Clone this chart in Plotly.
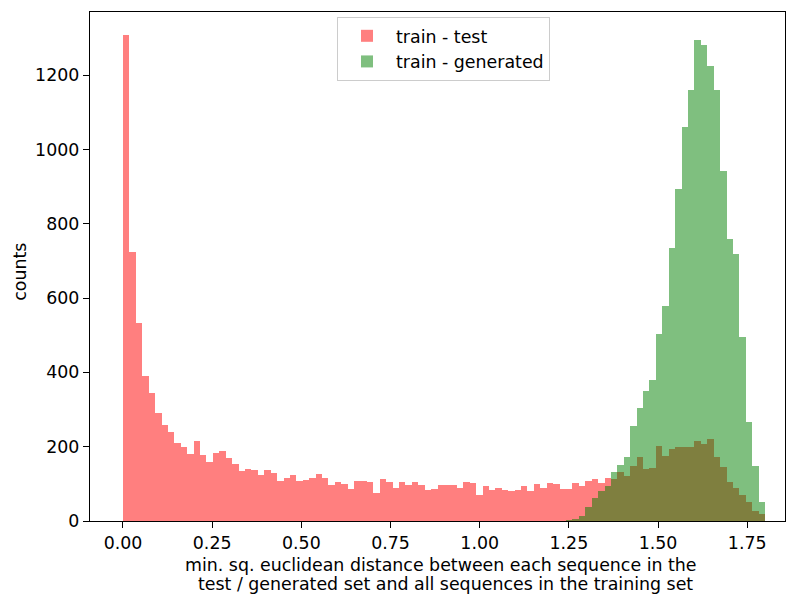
import plotly.graph_objects as go

# histogram bins (shared by both series)
bin_start = 0.0
bin_width = 0.018

train_test_counts = [
    1308, 725, 534, 391, 345, 291, 259, 240, 210, 200,
    181, 216, 178, 159, 183, 189, 170, 154, 135, 140,
    137, 124, 137, 129, 108, 116, 124, 108, 111, 116,
    127, 116, 97, 105, 100, 86, 108, 108, 105, 76,
    113, 105, 89, 105, 97, 105, 97, 84, 86, 97,
    97, 97, 89, 105, 102, 70, 94, 84, 89, 84,
    81, 84, 94, 81, 100, 89, 102, 100, 85, 87,
    101, 95, 109, 112, 103, 117, 112, 133, 120, 149,
    171, 141, 144, 203, 174, 195, 198, 198, 198, 214,
    208, 222, 171, 146, 106, 90, 71, 52, 26, 20,
]

train_generated_first_bin = 68  # 0-based index of first non-empty bin
train_generated_counts = [
    1, 2, 5, 13, 39, 63, 82, 93, 133, 152,
    171, 257, 305, 351, 380, 502, 580, 736, 893, 1060,
    1160, 1294, 1281, 1224, 1160, 941, 760, 720, 494, 267,
    149, 52,
]

x_ticks = [0.0, 0.25, 0.5, 0.75, 1.0, 1.25, 1.5, 1.75]
x_tick_labels = ["0.00", "0.25", "0.50", "0.75", "1.00", "1.25", "1.50", "1.75"]
y_ticks = [0, 200, 400, 600, 800, 1000, 1200]

x_title_lines = [
    "min. sq. euclidean distance between each sequence in the",
    "test / generated set and all sequences in the training set",
]
y_title = "counts"

x_test = [bin_start + bin_width * i for i in range(len(train_test_counts))]
x_gen = [bin_start + bin_width * (train_generated_first_bin + i)
         for i in range(len(train_generated_counts))]

FONT = "DejaVu Sans"
FS = 17.4

W, H = 786, 594
ML, MR, MT, MB = 90, 1, 12, 72.5
plot_h = H - MT - MB
plot_w = W - ML - MR

fig = go.Figure()
fig.add_trace(go.Bar(
    x=x_test, y=train_test_counts, width=bin_width, offset=0,
    name="train - test",
    marker=dict(color="rgba(255,0,0,0.5)", line=dict(width=0)),
))
fig.add_trace(go.Bar(
    x=x_gen, y=train_generated_counts, width=bin_width, offset=0,
    name="train - generated",
    marker=dict(color="rgba(0,128,0,0.5)", line=dict(width=0)),
))

axis_common = dict(
    showline=True, linecolor="black", linewidth=1.3, mirror=True,
    ticks="outside", ticklen=6, tickwidth=1.3, tickcolor="black",
    showgrid=False, zeroline=False, automargin=False,
    tickfont=dict(family=FONT, size=FS, color="black"),
)

def py(px_y):
    return (H - MB - px_y) / plot_h

def px(px_x):
    return (px_x - ML) / plot_w

annotations = [
    dict(text=x_title_lines[0], x=px(441), y=py(566), xref="paper", yref="paper",
         xanchor="center", yanchor="middle", showarrow=False,
         font=dict(family=FONT, size=FS, color="black")),
    dict(text=x_title_lines[1], x=px(446), y=py(585), xref="paper", yref="paper",
         xanchor="center", yanchor="middle", showarrow=False,
         font=dict(family=FONT, size=FS, color="black")),
    dict(text=y_title, x=px(20), y=py(272), xref="paper", yref="paper",
         xanchor="center", yanchor="middle", textangle=-90, showarrow=False,
         font=dict(family=FONT, size=FS, color="black")),
]

fig.update_layout(
    width=W, height=H,
    margin=dict(l=ML, r=MR, t=MT, b=MB, autoexpand=False),
    plot_bgcolor="white", paper_bgcolor="white",
    barmode="overlay", bargap=0,
    font=dict(family=FONT, size=FS, color="black"),
    showlegend=True,
    legend=dict(
        x=px(443.5), xanchor="center", y=py(17), yanchor="top",
        bgcolor="rgba(255,255,255,0.8)", bordercolor="rgb(204,204,204)",
        borderwidth=1, font=dict(family=FONT, size=FS, color="black"),
        traceorder="normal", itemwidth=48,
    ),
    xaxis=dict(
        range=[-0.0925, 1.856],
        tickvals=x_ticks, ticktext=x_tick_labels,
        **axis_common,
    ),
    yaxis=dict(
        range=[0, 1370],
        tickvals=y_ticks,
        **axis_common,
    ),
    annotations=annotations,
)

fig.write_html(
    "out.html",
    config={"displayModeBar": False},
    post_script="document.body.style.margin='0px';document.body.style.overflow='hidden';",
)
